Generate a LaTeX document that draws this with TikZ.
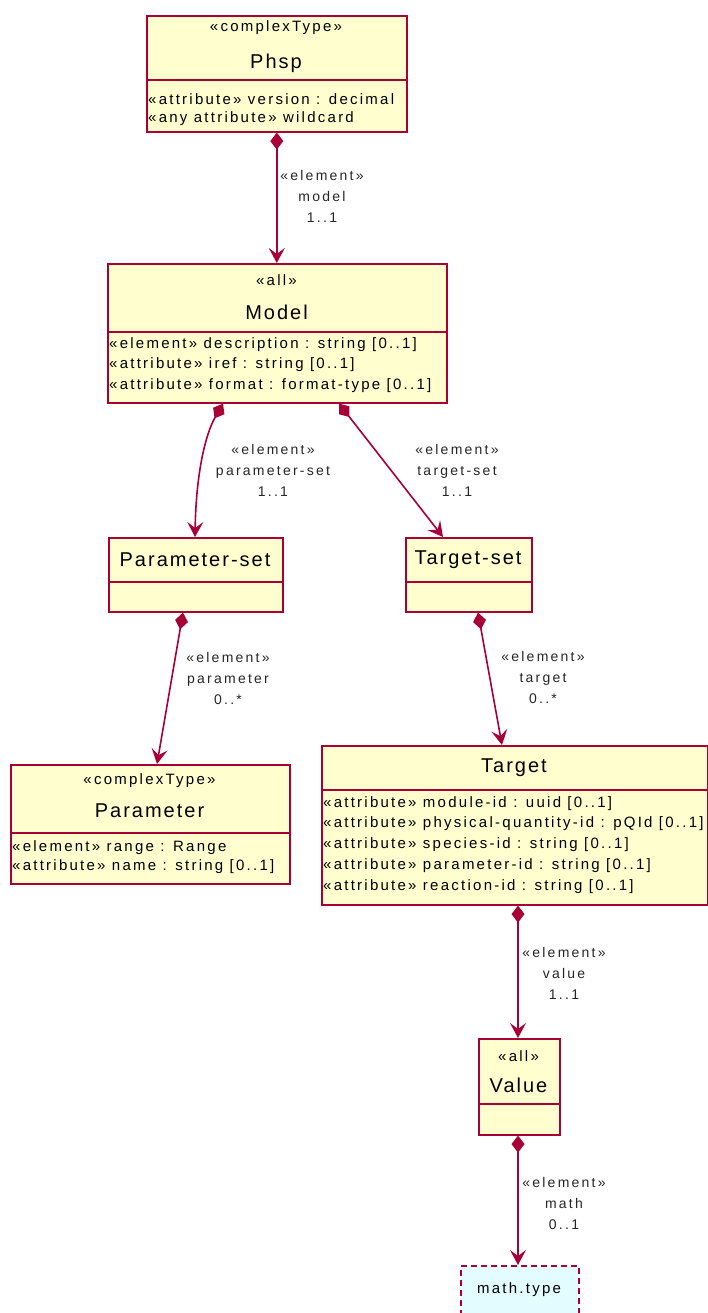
\documentclass[tikz,border=0pt]{standalone}
\usepackage{fontspec}
\setmainfont{Liberation Sans}
\newfontfamily\attrfont[LetterSpace=15]{Liberation Sans}
\newfontfamily\namefont[LetterSpace=10]{Liberation Sans}
\newfontfamily\lblfont[LetterSpace=16]{Liberation Sans}
\usetikzlibrary{arrows.meta}
\definecolor{umlborder}{HTML}{A80036}
\definecolor{umlfill}{HTML}{FEFECE}
\definecolor{mathfill}{HTML}{E2FCFF}
\tikzset{
  classbox/.style={draw=umlborder, fill=umlfill, line width=1.6pt, rectangle, inner sep=0pt, anchor=north west},
  divider/.style={draw=umlborder, line width=1.6pt},
  attr/.style={anchor=west, inner sep=0pt, font=\attrfont\fontsize{15}{18}\selectfont},
  stereo/.style={inner sep=0pt, font=\attrfont\fontsize{15}{18}\selectfont},
  cname/.style={inner sep=0pt, font=\namefont\fontsize{20}{24}\selectfont},
  lbl/.style={inner sep=0pt, align=center, font=\lblfont\fontsize{14}{21}\selectfont, text=black!85},
  assoc/.style={draw=umlborder, line width=1.6pt, {Diamond[length=17pt,width=13pt]}-{Stealth[length=15pt,width=16pt,inset=6pt]}}
}
\begin{document}
\begin{tikzpicture}[x=1pt,y=-1pt]
\clip (0,0) rectangle (708,1313);
\fill[white] (0,0) rectangle (708,1313);

% Phsp
\node[classbox, minimum width=260pt, minimum height=116pt] (phsp) at (146,15) {};
\draw[divider] ([yshift=-65pt]phsp.north west) -- ([yshift=-65pt]phsp.north east);
\node[stereo] (phsp-st) at (276,28) {«complexType»};
\node[cname] (phsp-nm) at (276,63) {Phsp};
\node[attr] (phsp-a1) at (148,99) {«attribute» version : decimal};
\node[attr] (phsp-a2) at (148,119) {«any attribute» wildcard};

% Model
\node[classbox, minimum width=339pt, minimum height=139pt] (model) at (107,263) {};
\draw[divider] ([yshift=-69pt]model.north west) -- ([yshift=-69pt]model.north east);
\node[stereo] (model-st) at (276.5,280) {«all»};
\node[cname] (model-nm) at (276.5,312) {Model};
\node[attr] (model-a1) at (109,345) {«element» description : string [0..1]};
\node[attr] (model-a2) at (109,365) {«attribute» iref : string [0..1]};
\node[attr] (model-a3) at (109,386) {«attribute» format : format-type [0..1]};

% Parameter-set
\node[classbox, minimum width=174pt, minimum height=74pt] (pset) at (108,537) {};
\draw[divider] ([yshift=-45pt]pset.north west) -- ([yshift=-45pt]pset.north east);
\node[cname] (pset-nm) at (195,560) {Parameter-set};

% Target-set
\node[classbox, minimum width=126pt, minimum height=74pt] (tset) at (405,537) {};
\draw[divider] ([yshift=-45pt]tset.north west) -- ([yshift=-45pt]tset.north east);
\node[cname] (tset-nm) at (468,560) {Target-set};

% Parameter
\node[classbox, minimum width=279pt, minimum height=119pt] (param) at (10,764) {};
\draw[divider] ([yshift=-69pt]param.north west) -- ([yshift=-69pt]param.north east);
\node[stereo] (param-st) at (149.5,781) {«complexType»};
\node[cname] (param-nm) at (149.5,811) {Parameter};
\node[attr] (param-a1) at (12,848) {«element» range : Range};
\node[attr] (param-a2) at (12,867) {«attribute» name : string [0..1]};

% Target
\node[classbox, minimum width=386pt, minimum height=159pt] (target) at (321,745) {};
\draw[divider] ([yshift=-45pt]target.north west) -- ([yshift=-45pt]target.north east);
\node[cname] (target-nm) at (514,768) {Target};
\node[attr] (target-a1) at (323,804) {«attribute» module-id : uuid [0..1]};
\node[attr] (target-a2) at (323,824) {«attribute» physical-quantity-id : pQId [0..1]};
\node[attr] (target-a3) at (323,845) {«attribute» species-id : string [0..1]};
\node[attr] (target-a4) at (323,866) {«attribute» parameter-id : string [0..1]};
\node[attr] (target-a5) at (323,887) {«attribute» reaction-id : string [0..1]};

% Value
\node[classbox, minimum width=81pt, minimum height=96pt] (value) at (478,1038) {};
\draw[divider] ([yshift=-66pt]value.north west) -- ([yshift=-66pt]value.north east);
\node[stereo] (value-st) at (518.5,1056) {«all»};
\node[cname] (value-nm) at (518.5,1085) {Value};

% math.type
\node[classbox, fill=mathfill, dashed, dash pattern=on 6pt off 4pt, minimum width=118pt, minimum height=60pt] (math) at (460,1265) {};
\node[stereo] (math-nm) at (519,1290) {math.type};

% connectors
\draw[assoc] (phsp.south) -- (phsp.south |- model.north);
\node[lbl] (l1) at (322,196) {«element»\\model\\1..1};

\draw[assoc] ([xshift=116pt]model.south west) .. controls (205,435) and (196,475) .. ([xshift=87pt]pset.north west);
\node[lbl] (l2) at (273,470) {«element»\\parameter-set\\1..1};

\draw[assoc] ([xshift=232pt]model.south west) -- ([xshift=38pt]tset.north west);
\node[lbl] (l3) at (457,470) {«element»\\target-set\\1..1};

\draw[assoc] ([xshift=75pt]pset.south west) -- ([xshift=147pt]param.north west);
\node[lbl] (l4) at (228,678) {«element»\\parameter\\0..*};

\draw[assoc] ([xshift=73pt]tset.south west) -- ([xshift=181pt]target.north west);
\node[lbl] (l5) at (543,677) {«element»\\target\\0..*};

\draw[assoc] ([xshift=197pt]target.south west) -- ([xshift=40pt]value.north west);
\node[lbl] (l6) at (564,973) {«element»\\value\\1..1};

\draw[assoc] ([xshift=40pt]value.south west) -- ([xshift=58pt]math.north west);
\node[lbl] (l7) at (564,1203) {«element»\\math\\0..1};
\end{tikzpicture}
\end{document}
